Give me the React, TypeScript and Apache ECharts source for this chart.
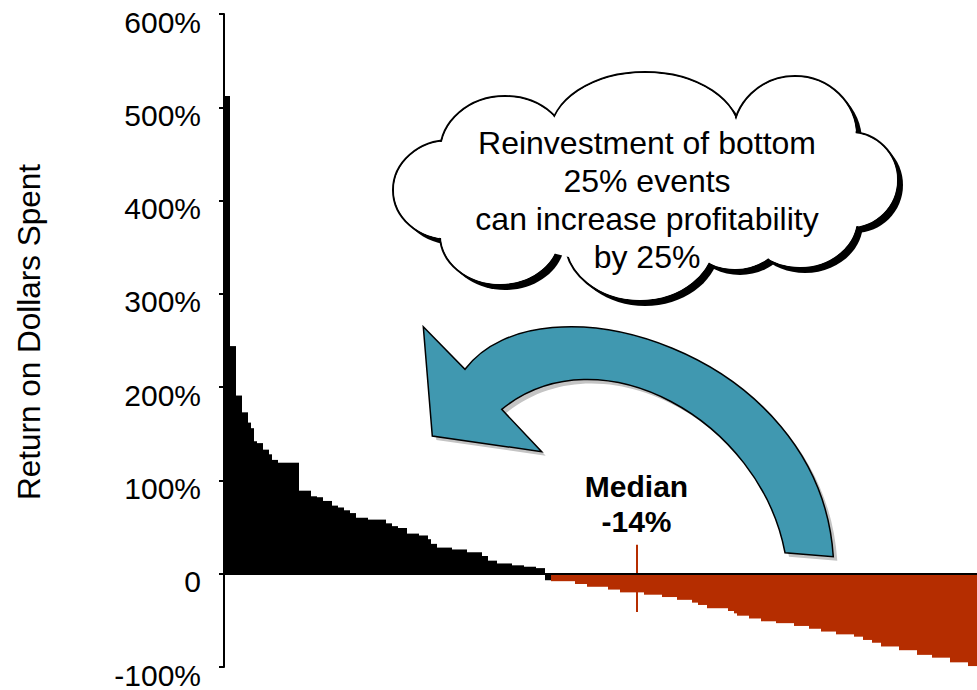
import React, { useEffect, useRef } from "react";
import * as echarts from "echarts";

// ---- data ----
const yMin = -100;
const yMax = 600;
const yStep = 100;
const yTitle = "Return on Dollars Spent";
const cloudLines = ["Reinvestment of bottom", "25% events", "can increase profitability", "by 25%"];
const medianLabel = ["Median", "-14%"];
const medianIndex = 137; // event at the median position
const medianSpan = [31, -41]; // extent of the median marker (in % units)

// Return on dollars spent for each event, sorted from best to worst (%)
const returns = [
  512, 512, 244, 244, 191, 191, 173, 173, 162, 156,
  142, 140, 140, 133, 133, 128, 122, 122, 119, 119,
  119, 119, 119, 119, 119, 89, 89, 89, 89, 83,
  83, 82, 82, 78, 78, 78, 73, 73, 71, 71,
  68, 68, 65, 65, 60, 60, 60, 60, 58, 58,
  58, 58, 58, 58, 54, 54, 51, 51, 49, 49,
  49, 43, 43, 43, 43, 41, 41, 41, 37, 32,
  32, 28, 28, 28, 28, 28, 26, 26, 26, 26,
  26, 23, 23, 23, 23, 23, 19, 19, 14, 14,
  14, 11, 11, 11, 11, 11, 9, 9, 9, 9,
  7.5, 7.5, 7.5, 7.5, 6, 6, 6, -7, -7, -8,
  -8, -8, -8, -8, -8, -8, -8, -11, -11, -11,
  -11, -14, -14, -14, -14, -14, -14, -14, -17, -17,
  -17, -17, -20, -20, -20, -20, -20, -20, -20, -20,
  -22.5, -22.5, -22.5, -22.5, -22.5, -22.5, -25, -25, -25, -25,
  -25, -28, -28, -28, -28, -28, -31, -31, -33.5, -33.5,
  -33.5, -37, -37, -37, -37, -37, -37, -37, -40, -40,
  -42.5, -45, -45, -45, -45, -48, -48, -48, -48, -51,
  -51, -51, -51, -51, -53, -53, -53, -53, -53, -53,
  -56, -56, -56, -56, -56, -59, -59, -59, -59, -62,
  -62, -62, -62, -62, -65, -65, -65, -65, -65, -65,
  -67.5, -67.5, -67.5, -71, -71, -71, -74, -74, -74, -78,
  -78, -78, -78, -78, -78, -82, -82, -82, -82, -82,
  -82, -87, -87, -87, -87, -87, -90, -90, -90, -90,
  -90, -90, -95, -95, -95, -95, -95, -95, -99, -99,
  -99,
];
const blackCount = 109; // leading events drawn in black

const FONT = "'Liberation Sans', Arial, Helvetica, sans-serif";
const RED = "#B52D00";
const TEAL = "#4098B0";

const arrowPath =
  "M423.3 326.7 L465 369.3 C540 270 820 350 833.3 556.7 L785 552.7 C760 420 600 330 501.7 409.3 L541.7 451.7 L432.3 436 Z";

let registered = false;
function registerShapes() {
  if (registered) return;
  echarts.graphic.registerShape("curvedArrow", echarts.graphic.extendPath(arrowPath, {}) as any);
  registered = true;
}

// cloud lobes: cx, cy, rx, ry
const lobes: [number, number, number, number][] = [
  [450, 190, 57, 50],
  [505, 152, 65, 56],
  [645, 135, 95, 63],
  [795, 136, 62, 60],
  [850, 180, 48, 48],
  [800, 218, 58, 50],
  [735, 228, 50, 42],
  [640, 240, 75, 61],
  [500, 235, 60, 50],
];

export default function App() {
  const ref = useRef<HTMLDivElement>(null);

  useEffect(() => {
    if (!ref.current) return;
    registerShapes();
    const chart = echarts.init(ref.current, undefined, { renderer: "svg" });

    const graphics: any[] = [];
    // cloud shadow
    lobes.forEach(([cx, cy, rx, ry]) =>
      graphics.push({ type: "ellipse", z: 10, shape: { cx: cx + 5, cy: cy + 5, rx, ry }, style: { fill: "#000" }, silent: true })
    );
    // cloud outline
    lobes.forEach(([cx, cy, rx, ry]) =>
      graphics.push({ type: "ellipse", z: 11, shape: { cx, cy, rx, ry }, style: { fill: "#fff", stroke: "#000", lineWidth: 2 }, silent: true })
    );
    // cloud inner fill
    lobes.forEach(([cx, cy, rx, ry]) =>
      graphics.push({ type: "ellipse", z: 12, shape: { cx, cy, rx: rx - 1.2, ry: ry - 1.2 }, style: { fill: "#fff" }, silent: true })
    );
    graphics.push({ type: "ellipse", z: 12, shape: { cx: 650, cy: 190, rx: 180, ry: 75 }, style: { fill: "#fff" }, silent: true });
    graphics.push({
      type: "text",
      z: 13,
      x: 647,
      y: 200,
      style: {
        text: cloudLines.join("\n"),
        font: `32px ${FONT}`,
        fill: "#000",
        align: "center",
        verticalAlign: "middle",
        lineHeight: 38,
      },
      silent: true,
    });
    // arrow
    graphics.push({ type: "curvedArrow", z: 10, x: 4, y: 4, style: { fill: "#c4c4c4" }, silent: true });
    graphics.push({ type: "curvedArrow", z: 11, x: 0, y: 0, style: { fill: TEAL, stroke: "#000", lineWidth: 1.5 }, silent: true });
    // y title
    graphics.push({
      type: "text",
      z: 13,
      x: 29,
      y: 332,
      rotation: Math.PI / 2,
      style: {
        text: yTitle,
        font: `31.5px ${FONT}`,
        fill: "#000",
        align: "center",
        verticalAlign: "middle",
      },
      silent: true,
    });

    chart.setOption({
      animation: false,
      backgroundColor: "#fff",
      grid: { left: 224, right: 0, top: 14, bottom: 23, containLabel: false },
      xAxis: {
        type: "category",
        data: returns.map((_, i) => String(i + 1)),
        z: 5,
        axisTick: { show: false },
        axisLabel: { show: false },
        axisLine: { onZero: true, lineStyle: { color: "#000", width: 2 } },
        splitLine: { show: false },
      },
      yAxis: {
        type: "value",
        min: yMin,
        max: yMax,
        interval: yStep,
        z: 5,
        splitLine: { show: false },
        axisLine: { show: true, lineStyle: { color: "#000", width: 2 } },
        axisTick: { show: true, length: 5, lineStyle: { color: "#000", width: 2 } },
        axisLabel: {
          color: "#000",
          fontSize: 30,
          fontFamily: FONT,
          margin: 23,
          verticalAlign: "top",
          lineHeight: 16,
          formatter: (v: number) => (v === 0 ? "0" : `${v}%`),
        },
      },
      series: [
        {
          type: "bar",
          data: returns,
          barCategoryGap: "0%",
          barGap: "0%",
          itemStyle: {
            color: (p: any) => (p.dataIndex < blackCount ? "#000" : RED),
          },
          markLine: {
            silent: true,
            symbol: "none",
            animation: false,
            lineStyle: { color: RED, width: 2, type: "solid" },
            label: {
              show: true,
              position: "start",
              formatter: medianLabel.join("\n"),
              color: "#000",
              fontSize: 30,
              fontWeight: "bold",
              fontFamily: FONT,
              lineHeight: 35,
              distance: 6,
            },
            data: [
              [
                { coord: [medianIndex, medianSpan[0]] },
                { coord: [medianIndex, medianSpan[1]] },
              ],
            ],
          },
        },
      ],
      graphic: { elements: graphics },
    });

    return () => chart.dispose();
  }, []);

  return (
    <div
      ref={ref}
      style={{ position: "absolute", left: 0, top: 0, width: 977, height: 690, background: "#fff" }}
    />
  );
}
